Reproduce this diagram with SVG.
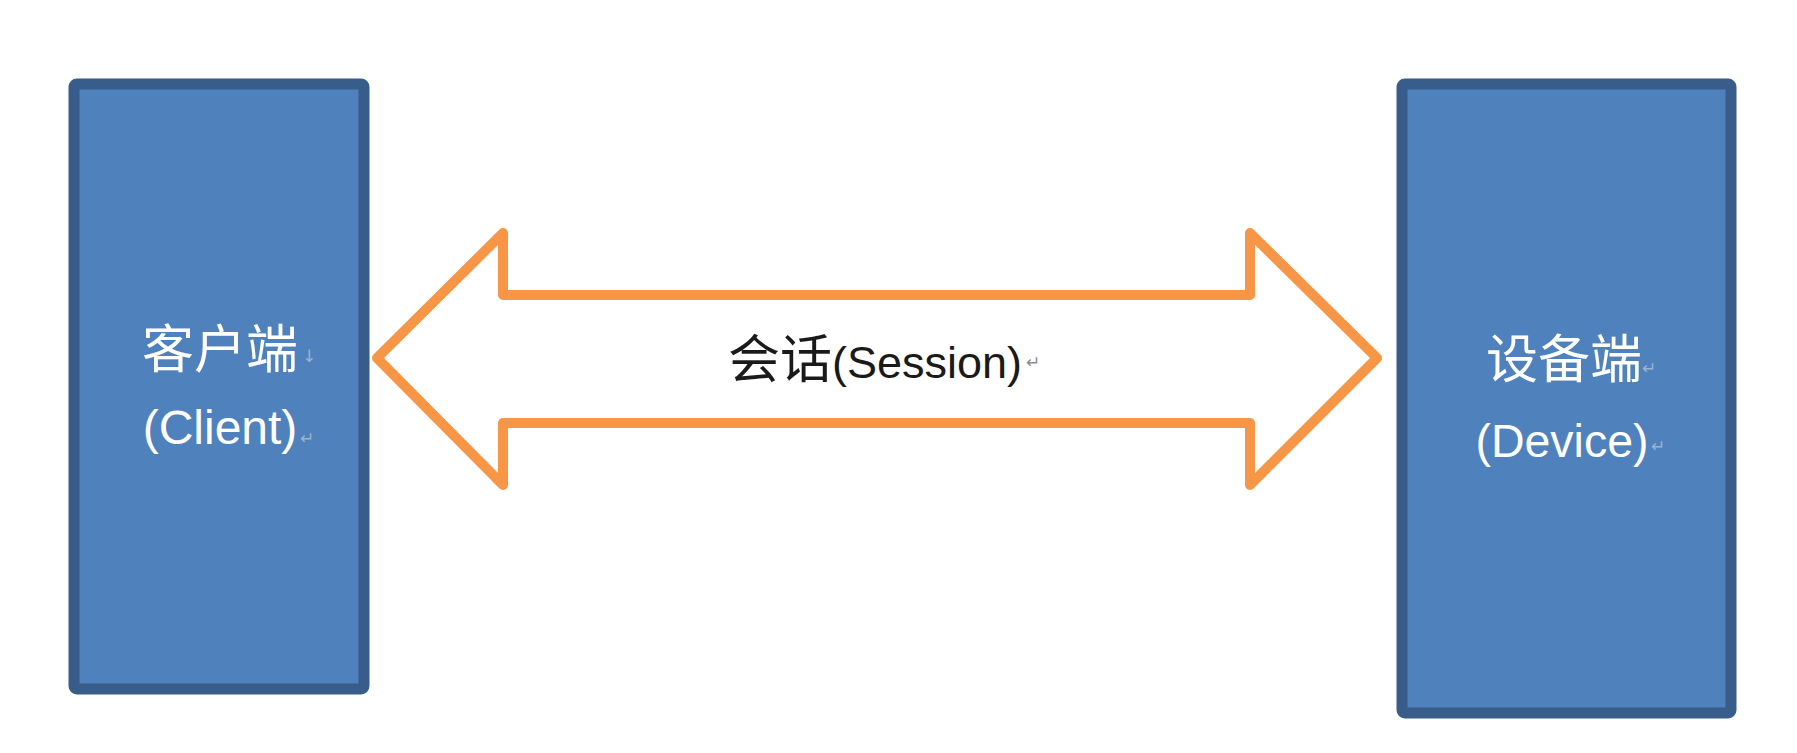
<svg xmlns="http://www.w3.org/2000/svg" width="1797" height="753" viewBox="0 0 1797 753">
<style>
  .box { fill: #4F81BD; stroke: #385D8A; stroke-width: 11; stroke-linejoin: round; }
  .arrow { fill: #FFFFFF; stroke: #F79646; stroke-width: 10; stroke-linejoin: round; }
  .cjk { font-family: "Noto Sans CJK SC", "Noto Sans", sans-serif; font-size: 52px; }
  .lat { font-family: "Liberation Sans", "Noto Sans", sans-serif; font-size: 45px; }
  .white { fill: #FFFFFF; }
  .dark { fill: #1A1A1A; }
  .mark { font-family: "DejaVu Sans", sans-serif; font-size: 17px; fill: #8C8C8C; }
  .markb { font-family: "DejaVu Sans", sans-serif; font-size: 17px; fill: #9FB2CC; }
</style>
<rect width="1797" height="753" fill="#FFFFFF"/>
<g id="connectors">
  <polygon id="session-arrow" class="arrow" points="377,358 503,233 503,295 1250,295 1250,233 1377,358 1250,485 1250,423 503,423 503,485"/>
  <g id="session-label">
    <text x="875" y="378" text-anchor="middle" class="dark"><tspan class="cjk">会话</tspan><tspan class="lat">(Session)</tspan></text>
    <text x="1026" y="368" class="mark">↵</text>
  </g>
</g>
<g id="node-client">
  <rect class="box" x="74" y="84" width="290" height="605" rx="3"/>
  <text x="220" y="368" text-anchor="middle" class="cjk white">客户端</text>
  <text x="302" y="362" class="markb">↓</text>
  <text x="220" y="444" text-anchor="middle" class="lat white" style="font-size:48px">(Client)</text>
  <text x="300" y="444" class="markb">↵</text>
</g>
<g id="node-device">
  <rect class="box" x="1402" y="84" width="329" height="629" rx="3"/>
  <text x="1564" y="378" text-anchor="middle" class="cjk white">设备端</text>
  <text x="1642" y="374" class="markb">↵</text>
  <text x="1562" y="457" text-anchor="middle" class="lat white" style="font-size:46.5px">(Device)</text>
  <text x="1651" y="452" class="markb">↵</text>
</g>
</svg>
